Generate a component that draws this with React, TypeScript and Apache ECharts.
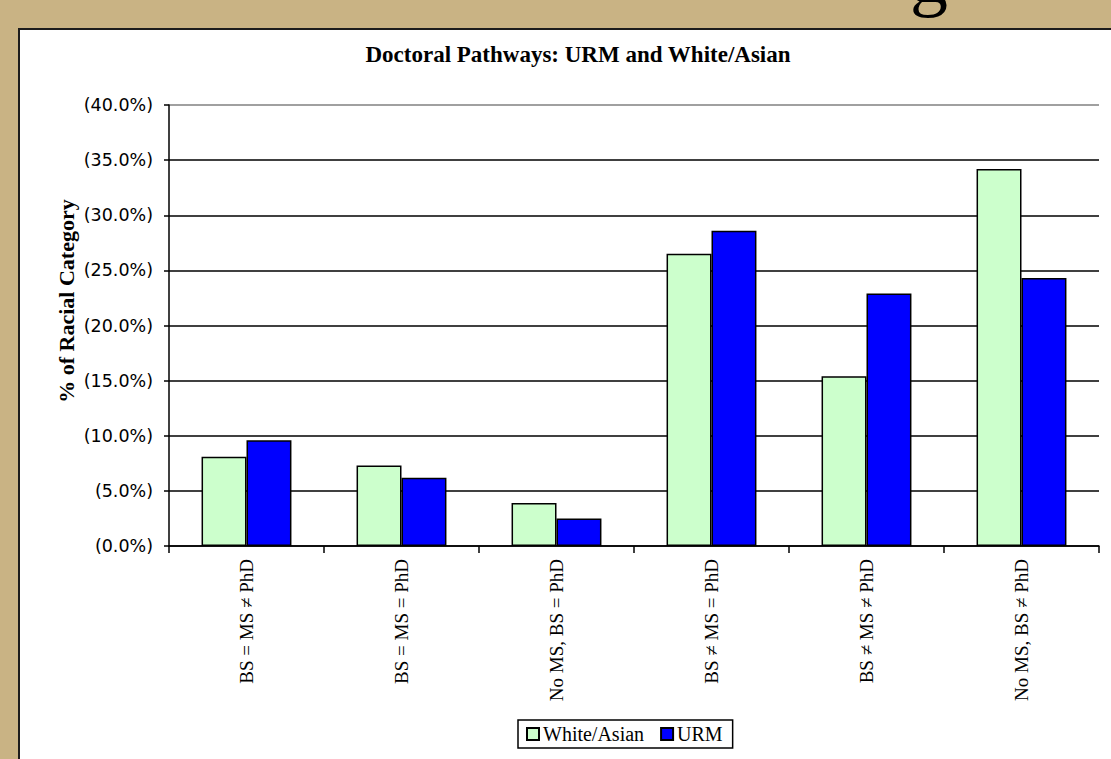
import React, { useEffect, useRef } from "react";
import * as echarts from "echarts";

const categories = [
  "BS = MS ≠ PhD",
  "BS = MS = PhD",
  "No MS, BS = PhD",
  "BS ≠ MS = PhD",
  "BS ≠ MS ≠ PhD",
  "No MS, BS ≠ PhD",
];
const whiteAsian = [8.1, 7.3, 3.9, 26.5, 15.4, 34.2];
const urm = [9.6, 6.2, 2.5, 28.6, 22.9, 24.3];
const seriesNames = ["White/Asian", "URM"];
const titleText = "Doctoral Pathways: URM and White/Asian";
const yAxisName = "% of Racial Category";

export default function App() {
  const ref = useRef<HTMLDivElement>(null);
  useEffect(() => {
    if (!ref.current) return;
    const chart = echarts.init(ref.current, null, { renderer: "svg" });
    const gridColors = ["#000", "#000", "#000", "#000", "#000", "#000", "#000", "#000", "#808080"];
    chart.setOption({
      animation: false,
      backgroundColor: "#C9B384",
      graphic: [
        {
          type: "text",
          z: -10,
          silent: true,
          x: 910,
          y: -62,
          style: {
            text: "g",
            fontFamily: "Liberation Serif",
            fontSize: 76,
            fill: "#000",
            textAlign: "left",
            textVerticalAlign: "top",
          },
        },
        {
          type: "rect",
          z: -10,
          silent: true,
          shape: { x: 19, y: 29, width: 1110, height: 740 },
          style: { fill: "#ffffff", stroke: "#1c1c1c", lineWidth: 2 },
        },
        {
          type: "text",
          x: 66,
          y: 301,
          rotation: Math.PI / 2,
          style: {
            text: yAxisName,
            fontFamily: "Liberation Serif",
            fontWeight: "bold",
            fontSize: 22,
            fill: "#000",
            textAlign: "center",
            textVerticalAlign: "middle",
          },
        },
      ],
      title: {
        text: titleText,
        left: 573,
        top: 38,
        textAlign: "center",
        textStyle: {
          fontFamily: "Liberation Serif",
          fontWeight: "bold",
          fontSize: 23,
          color: "#000",
        },
      },
      legend: {
        data: seriesNames,
        left: 518,
        top: 720,
        itemWidth: 12,
        itemHeight: 12,
        itemGap: 16,
        padding: [4, 10, 4, 8],
        borderColor: "#000",
        borderWidth: 1.5,
        icon: "rect",
        textStyle: {
          fontFamily: "Liberation Serif",
          fontSize: 20,
          color: "#000",
          padding: [0, 0, 0, -1],
        },
      },
      grid: { left: 169, right: 12, top: 105, bottom: 213, containLabel: false },
      xAxis: {
        type: "category",
        data: categories,
        axisLine: { lineStyle: { color: "#000", width: 1.5 } },
        axisTick: { show: true, length: 7, lineStyle: { color: "#000", width: 1.5 } },
        axisLabel: {
          rotate: 90,
          margin: 13,
          interval: 0,
          fontFamily: "Liberation Serif",
          fontSize: 19,
          color: "#000",
        },
      },
      yAxis: {
        type: "value",
        min: 0,
        max: 40,
        interval: 5,
        axisLine: { show: true, lineStyle: { color: "#000", width: 1.5 } },
        axisTick: { show: true, length: 5, lineStyle: { color: "#000", width: 1.5 } },
        axisLabel: {
          margin: 16,
          fontFamily: "DejaVu Sans",
          fontSize: 17.5,
          color: "#000",
          formatter: (v: number) => `(${v.toFixed(1)}%)`,
        },
        splitLine: { show: true, lineStyle: { color: gridColors, width: 1.5 } },
      },
      series: [
        {
          name: seriesNames[0],
          type: "bar",
          data: whiteAsian,
          barGap: "0%",
          barCategoryGap: "42%",
          itemStyle: { color: "#CCFFCC", borderColor: "#000", borderWidth: 1.5 },
        },
        {
          name: seriesNames[1],
          type: "bar",
          data: urm,
          barGap: "0%",
          barCategoryGap: "42%",
          itemStyle: { color: "#0000FF", borderColor: "#000", borderWidth: 1.5 },
        },
      ],
    });
    return () => chart.dispose();
  }, []);
  return (
    <div
      ref={ref}
      style={{ position: "fixed", left: 0, top: 0, width: 1111, height: 759 }}
    />
  );
}
